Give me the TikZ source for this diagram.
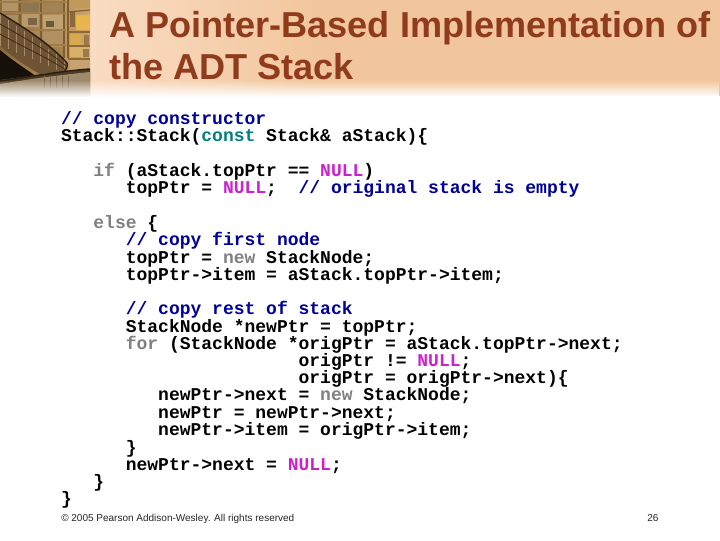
\documentclass[tikz,border=0pt]{standalone}
\usepackage{fontspec}
\setmainfont{Liberation Sans}
\setmonofont{Liberation Mono}
\usetikzlibrary{fadings}
\definecolor{titlec}{HTML}{8F3B1C}
\definecolor{cmtc}{HTML}{00009C}
\definecolor{kwc}{HTML}{808080}
\definecolor{constc}{HTML}{008080}
\definecolor{nullc}{HTML}{CC22CC}
\definecolor{bandl}{HTML}{F9DCC3}
\definecolor{bandr}{HTML}{F2C69C}
\definecolor{photol}{HTML}{8A6A3C}
\definecolor{photor}{HTML}{D0A468}
\definecolor{beamdark}{HTML}{7E5E32}
\definecolor{beamlight}{HTML}{A07C48}
\definecolor{beammid}{HTML}{8E6A36}
\definecolor{stairc}{HTML}{6E5434}
\definecolor{railc}{HTML}{A48A66}
\definecolor{railshade}{HTML}{3E2C16}
\definecolor{railtop}{HTML}{2E2010}
\definecolor{darkc}{HTML}{16100A}
\definecolor{floorc}{HTML}{4A3A24}
\definecolor{floorline}{HTML}{2A2012}
\definecolor{floorlight}{HTML}{A08A6C}
\definecolor{reflc}{HTML}{7A6A54}
\newcommand{\cmtx}[1]{\textcolor{cmtc}{#1}}
\newcommand{\kwx}[1]{\textcolor{kwc}{#1}}
\newcommand{\nlx}{\textcolor{nullc}{NULL}}
\tikzfading[name=fadeband, top color=transparent!100, bottom color=transparent!0]
\tikzset{
  code/.style={anchor=base west,inner sep=0pt,outer sep=0pt,font=\fontsize{13.5pt}{15pt}\selectfont\ttfamily\bfseries,text=black},
  titletext/.style={anchor=base west,inner sep=0pt,text=titlec,font=\fontsize{27.07pt}{30pt}\selectfont\bfseries},
  foot/.style={anchor=base west,inner sep=0pt,text=black!85,font=\fontsize{7.5pt}{8pt}\selectfont},
  beam/.style={draw=#1,line width=0.9pt},
  rail/.style={draw=#1,line width=0.6pt}
}
\begin{document}
\begin{tikzpicture}[x=0.75pt,y=-0.75pt]
\useasboundingbox (0,0) rectangle (720,540);
\fill[white] (0,0) rectangle (720,540);
% header band
\shade[left color=bandl,right color=bandr] (90,0) rectangle (320,96);
\fill[bandr] (319.5,0) rectangle (720,96);
% photo
\begin{scope}
\clip (0,0) rectangle (90,96);
\shade[left color=photol,right color=photor] (0,0) rectangle (90,96);
% windows
\foreach \x/\y/\w/\h/\c in {
 2/0/16/11/B09468, 22/2/17/10/8E7650, 43/3/20/9/A08458, 70/0/20/8/C09A58,
 2/15/16/13/A88E62, 22/14/17/13/B89A6A, 43/15/20/14/C0A270, 46/21/8/6/6A5A3C,
 28/18/9/7/7A6644, 70/12/5/15/8A6A3C, 76/15/14/15/E8B44C,
 22/30/18/13/A88858, 43/32/20/12/B09060, 70/34/12/12/D8A850, 84/35/5/10/9A7A4A,
 70/47/20/10/D8B068, 83/49/6/8/9A7C50, 43/47/20/12/A4824E, 70/60/20/10/C8A270}
  {\definecolor{wincol}{HTML}{\c}\fill[wincol] (\x,\y) rectangle ++(\w,\h);}
% building beams
\foreach \x in {20,41,64,68} {\draw[beam=beamdark] (\x,0) -- (\x,58);}
\foreach \y in {2,13,30,45} {\draw[beam=beamlight] (0,\y) -- (66,\y);}
\draw[beam=beamdark] (68,12) -- (90,10);
\draw[beam=beammid] (68,32) -- (90,32);
\draw[beam=beammid] (68,46) -- (90,46);
\draw[beam=beammid] (68,59) -- (90,59);
% stairs
\fill[stairc] (0,14) .. controls (25,28) and (50,45) .. (66,62) -- (66,72) -- (40,74) .. controls (25,66) and (10,55) .. (0,46) -- cycle;
\foreach \i in {0,8,...,64} {\draw[rail=railc] (\i,{14+\i*0.72}) -- (\i,{46+\i*0.42});}
\foreach \d in {10,20} {\draw[rail=railshade] (0,14+\d) .. controls (25,28+\d) and (50,45+\d*.7) .. (66,62+\d*.4);}
\draw[draw=railtop,line width=1.1pt] (0,13) .. controls (25,28) and (50,44) .. (67,63) .. controls (68,67) and (66,70) .. (64,72);
% dark under the stairs
\fill[darkc] (0,50) .. controls (12,60) and (24,68) .. (36,76) -- (0,80) -- cycle;
\fill[floorc] (0,80) -- (36,75) -- (90,69) -- (90,96) -- (0,96) -- cycle;
\draw[draw=floorline,line width=1.1pt] (0,81) .. controls (30,77) and (60,71) .. (90,69);
\fill[floorlight] (0,84) .. controls (30,79) and (60,75) .. (90,72) -- (90,96) -- (0,96) -- cycle;
\foreach \x in {44,50,56,62,68} {\draw[rail=reflc] (\x,76) -- (\x,88);}
\end{scope}
% fade of the band into the page
\fill[white,path fading=fadeband] (0,80) rectangle (720,97);
% title
\node[titletext] (t1) at (109,37) {A Pointer-Based Implementation of};
\node[titletext] (t2) at (109,79.5) {the ADT Stack};
% code
\node[code] (c1) at (61,124) {\cmtx{// copy constructor}};
\node[code] (c2) at (61,141.5) {Stack::Stack(\textcolor{constc}{const} Stack\& aStack)\{};
\node[code] (c3) at (93.4,176) {\kwx{if} (aStack.topPtr == \nlx)};
\node[code] (c4) at (125.8,193) {topPtr = \nlx;~~\cmtx{// original stack is empty}};
\node[code] (c5) at (93.4,228) {\kwx{else} \{};
\node[code] (c6) at (125.8,245) {\cmtx{// copy first node}};
\node[code] (c7) at (125.8,263) {topPtr = \kwx{new} StackNode;};
\node[code] (c8) at (125.8,280) {topPtr->item = aStack.topPtr->item;};
\node[code] (c9) at (125.8,314) {\cmtx{// copy rest of stack}};
\node[code] (c10) at (125.8,332) {StackNode *newPtr = topPtr;};
\node[code] (c11) at (125.8,349) {\kwx{for} (StackNode *origPtr = aStack.topPtr->next;};
\node[code] (c12) at (298.6,366) {origPtr != \nlx;};
\node[code] (c13) at (298.6,383.5) {origPtr = origPtr->next)\{};
\node[code] (c14) at (158.2,400.5) {newPtr->next = \kwx{new} StackNode;};
\node[code] (c15) at (158.2,418) {newPtr = newPtr->next;};
\node[code] (c16) at (158.2,435) {newPtr->item = origPtr->item;};
\node[code] (c17) at (125.8,453) {\}};
\node[code] (c18) at (125.8,470) {newPtr->next = \nlx;};
\node[code] (c19) at (93.4,487) {\}};
\node[code] (c20) at (61,504) {\}};
% footer
\node[foot] (f1) at (61,521.5) {© 2005 Pearson Addison-Wesley. All rights reserved};
\node[foot] (f2) at (647,521.5) {26};
\end{tikzpicture}
\end{document}
